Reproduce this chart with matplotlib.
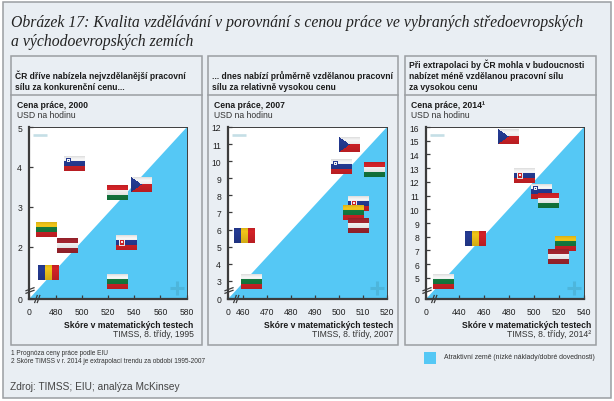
import matplotlib
matplotlib.use("Agg")
import matplotlib.pyplot as plt
import numpy as np
from matplotlib.lines import Line2D
from matplotlib.offsetbox import AnnotationBbox, OffsetImage
from matplotlib.patches import Rectangle

plt.rcParams['font.family'] = ['Liberation Sans', 'DejaVu Sans']

# values (score, labour cost), back to front
countries_2000 = ['SI', 'HU', 'CZ', 'LT', 'LV', 'SK', 'RO', 'BG']
score_2000 = [494.2, 526.9, 545.8, 473, 488.5, 533.8, 474.6, 526.9]
cost_2000 = [4.09, 3.37, 3.57, 2.44, 2.03, 2.11, 1.35, 1.13]

countries_2007 = ['CZ', 'SI', 'HU', 'SK', 'LT', 'LV', 'RO', 'BG']
score_2007 = [504.3, 501, 514.9, 508.2, 506.1, 508.2, 460.7, 463.4]
cost_2007 = [10.98, 9.71, 9.52, 7.53, 7.0, 6.24, 5.65, 2.95]

countries_2014 = ['CZ', 'SK', 'SI', 'HU', 'RO', 'LT', 'LV', 'BG']
score_2014 = [479.2, 492, 505.6, 511.2, 453.2, 525.2, 519.6, 427.6]
cost_2014 = [15.32, 12.45, 11.29, 10.64, 7.89, 7.52, 6.58, 4.77]

xticks_2000 = [480, 500, 520, 540, 560, 580]
yticks_2000 = [2, 3, 4, 5]
xticks_2007 = [460, 470, 480, 490, 500, 510, 520]
yticks_2007 = [3, 4, 5, 6, 7, 8, 9, 10, 11, 12]
xticks_2014 = [440, 460, 480, 500, 520, 540]
yticks_2014 = [5, 6, 7, 8, 9, 10, 11, 12, 13, 14, 15, 16]

headers = [
    'ČR dříve nabízela nejvzdělanější pracovní\nsílu za konkurenční cenu...',
    '... dnes nabízí průměrně vzdělanou pracovní\nsílu za relativně vysokou cenu',
    'Při extrapolaci by ČR mohla v budoucnosti\nnabízet méně vzdělanou pracovní sílu\nza vysokou cenu',
]
y_titles = ['Cena práce, 2000', 'Cena práce, 2007', 'Cena práce, 2014¹']
x_sources = ['TIMSS, 8. třídy, 1995', 'TIMSS, 8. třídy, 2007', 'TIMSS, 8. třídy, 2014²']

BG = '#E9EEF3'
BLUE = '#55C8F5'
EDGE = '#9A9EA2'
DARK = '#3C3C3C'
RED = (0.86, 0.14, 0.16)
WHITE = (1, 1, 1)
GREEN = (0.08, 0.50, 0.26)
NAVY = (0.15, 0.24, 0.60)
YELLOW = (0.98, 0.80, 0.10)
MAROON = (0.66, 0.15, 0.19)

stripes = {
    'BG': [WHITE, GREEN, RED],
    'HU': [RED, WHITE, GREEN],
    'LT': [YELLOW, GREEN, RED],
    'LV': [MAROON, WHITE, MAROON],
    'SI': [WHITE, NAVY, RED],
    'SK': [WHITE, NAVY, RED],
    'CZ': [WHITE, RED],
}


def make_flag(code, w=21, h=15):
    img = np.ones((h, w, 3))
    if code == 'RO':
        img[:, :7] = NAVY
        img[:, 7:14] = YELLOW
        img[:, 14:] = RED
    else:
        cols = stripes[code]
        for i, c in enumerate(cols):
            img[i * h // len(cols):(i + 1) * h // len(cols)] = c
    if code == 'CZ':
        for r in range(h):
            img[r, :int(10 * (1 - abs(r - 7) / 7.5)) + 1] = NAVY
    if code == 'SI':
        img[2:7, 2:7] = NAVY
        img[3:6, 3:6] = WHITE
        img[4, 4] = NAVY
    if code == 'SK':
        img[4:11, 3:9] = WHITE
        img[5:10, 4:8] = RED
        img[6:8, 5:7] = WHITE
    # glossy look: pale grey top edge, darker bottom edge
    shade = np.linspace(1.0, 0.84, h)[:, None, None]
    img = img * shade
    top = np.ones((h, 1, 1))
    top[:3, 0, 0] = [0.88, 0.93, 0.97]
    return img * top


fig = plt.figure(figsize=(6.14, 4.02), dpi=100, facecolor='white')
W, H = 614.0, 402.0

# layout layer in pixel coordinates
page = fig.add_axes([0, 0, 1, 1], zorder=0)
page.set_xlim(0, W)
page.set_ylim(H, 0)
page.axis('off')


def box(x0, y0, x1, y1, ec=EDGE, fc='none', lw=1.1):
    page.add_patch(Rectangle((x0, y0), x1 - x0, y1 - y0, ec=ec, fc=fc, lw=lw))


box(3, 3, 611, 399, fc=BG)

page.text(11, 27, 'Obrázek 17: Kvalita vzdělávání v porovnání s cenou práce ve vybraných středoevropských',
          family='Liberation Serif', style='italic', size=11.32, color='#222222')
page.text(11, 46, 'a východoevropských zemích',
          family='Liberation Serif', style='italic', size=11.32, color='#222222')

panels = [
    (11, 202, 29, 186.5, 459.3, 0.7, 5, xticks_2000, yticks_2000, countries_2000, score_2000, cost_2000),
    (208, 398, 228, 386.7, 453.6, 1.97, 12, xticks_2007, yticks_2007, countries_2007, score_2007, cost_2007),
    (405, 596, 426, 584, 413.6, 3.5, 16, xticks_2014, yticks_2014, countries_2014, score_2014, cost_2014),
]
TOP, BOTTOM = 128.0, 299.5

for k, (x0, x1, L, R, xmin, ymin, ymax, xt, yt, codes, sc, co) in enumerate(panels):
    box(x0, 57, x1, 346)
    page.plot([x0, x1], [96, 96], color=EDGE, lw=1.1)
    page.text(x0 + 4, 92, headers[k], size=6.15, weight='bold', va='bottom',
              linespacing=1.27, color='#1A1A1A')
    page.text(x0 + 6, 106, y_titles[k], size=6.2, weight='bold', va='center', color='#1A1A1A')
    page.text(x0 + 6, 115, 'USD na hodinu', size=6.2, va='center', color='#333333')
    page.text(R + 7, 326, 'Skóre v matematických testech', size=6.2, weight='bold',
              ha='right', va='center', color='#1A1A1A')
    page.text(R + 7, 335, x_sources[k], size=6.2, ha='right', va='center', color='#333333')

    ax = fig.add_axes([L / W, 1 - BOTTOM / H, (R - L) / W, (BOTTOM - TOP) / H], zorder=1)
    ax.set_xlim(xmin, xt[-1])
    ax.set_ylim(ymin, ymax)
    ax.set_facecolor('white')
    ax.fill([xmin, xt[-1], xt[-1]], [ymin, ymin, ymax], color=BLUE, lw=0)
    ax.set_xticks([xmin] + xt, ['0'] + [str(v) for v in xt])
    ax.set_yticks([ymin] + yt, ['0'] + [str(v) for v in yt])
    ax.tick_params(direction='in', length=3, width=0.9, color=DARK, labelsize=6.2,
                   labelcolor='#222222')
    ax.tick_params(axis='x', pad=6)
    ax.tick_params(axis='y', pad=5)
    for side in ['left', 'bottom']:
        ax.spines[side].set_linewidth(1.6)
        ax.spines[side].set_color(DARK)
    for side in ['top', 'right']:
        ax.spines[side].set_linewidth(0.7)
        ax.spines[side].set_color(DARK)
    # pale minus / plus keys
    ax.plot([0.07], [0.955], marker='_', ms=9.5, mew=1.9, color='#C5DFE6',
            transform=ax.transAxes)
    ax.plot([0.938], [0.06], marker='+', ms=9.5, mew=2.2, color='#4DB6DC',
            transform=ax.transAxes)
    for code, s, c in zip(codes, sc, co):
        img = OffsetImage(make_flag(code), zoom=1, dpi_cor=False, interpolation='bilinear')
        ax.add_artist(AnnotationBbox(img, (s, c), frameon=False, pad=0, annotation_clip=False))

    # axis breaks
    for dy in (-1.3, 1.3):
        fig.add_artist(Line2D([L - 3, L + 5], [291.5 + dy + 1.5, 291.5 + dy - 1.5], color=DARK, lw=0.9,
                              transform=page.transData, zorder=5))
    for dx in (-1.3, 1.3):
        fig.add_artist(Line2D([L + 7 + dx, L + 9.5 + dx], [303.5, 296.5], color=DARK, lw=0.9,
                              transform=page.transData, zorder=5))

page.text(11, 353.5, '1 Prognóza ceny práce podle EIU', size=4.7, va='center', color='#333333')
page.text(11, 361.5, '2 Skóre TIMSS v r. 2014 je extrapolací trendu za období 1995-2007',
          size=4.7, va='center', color='#333333')
page.add_patch(Rectangle((424, 353), 12, 12, fc=BLUE, ec='none'))
page.text(444, 358, 'Atraktivní země (nízké náklady/dobré dovednosti)', size=4.95, va='center',
          color='#333333')
page.text(10, 387, 'Zdroj: TIMSS; EIU; analýza McKinsey', size=7.3, va='center', color='#444444')

fig.savefig('out.png', dpi=100, facecolor='white')
